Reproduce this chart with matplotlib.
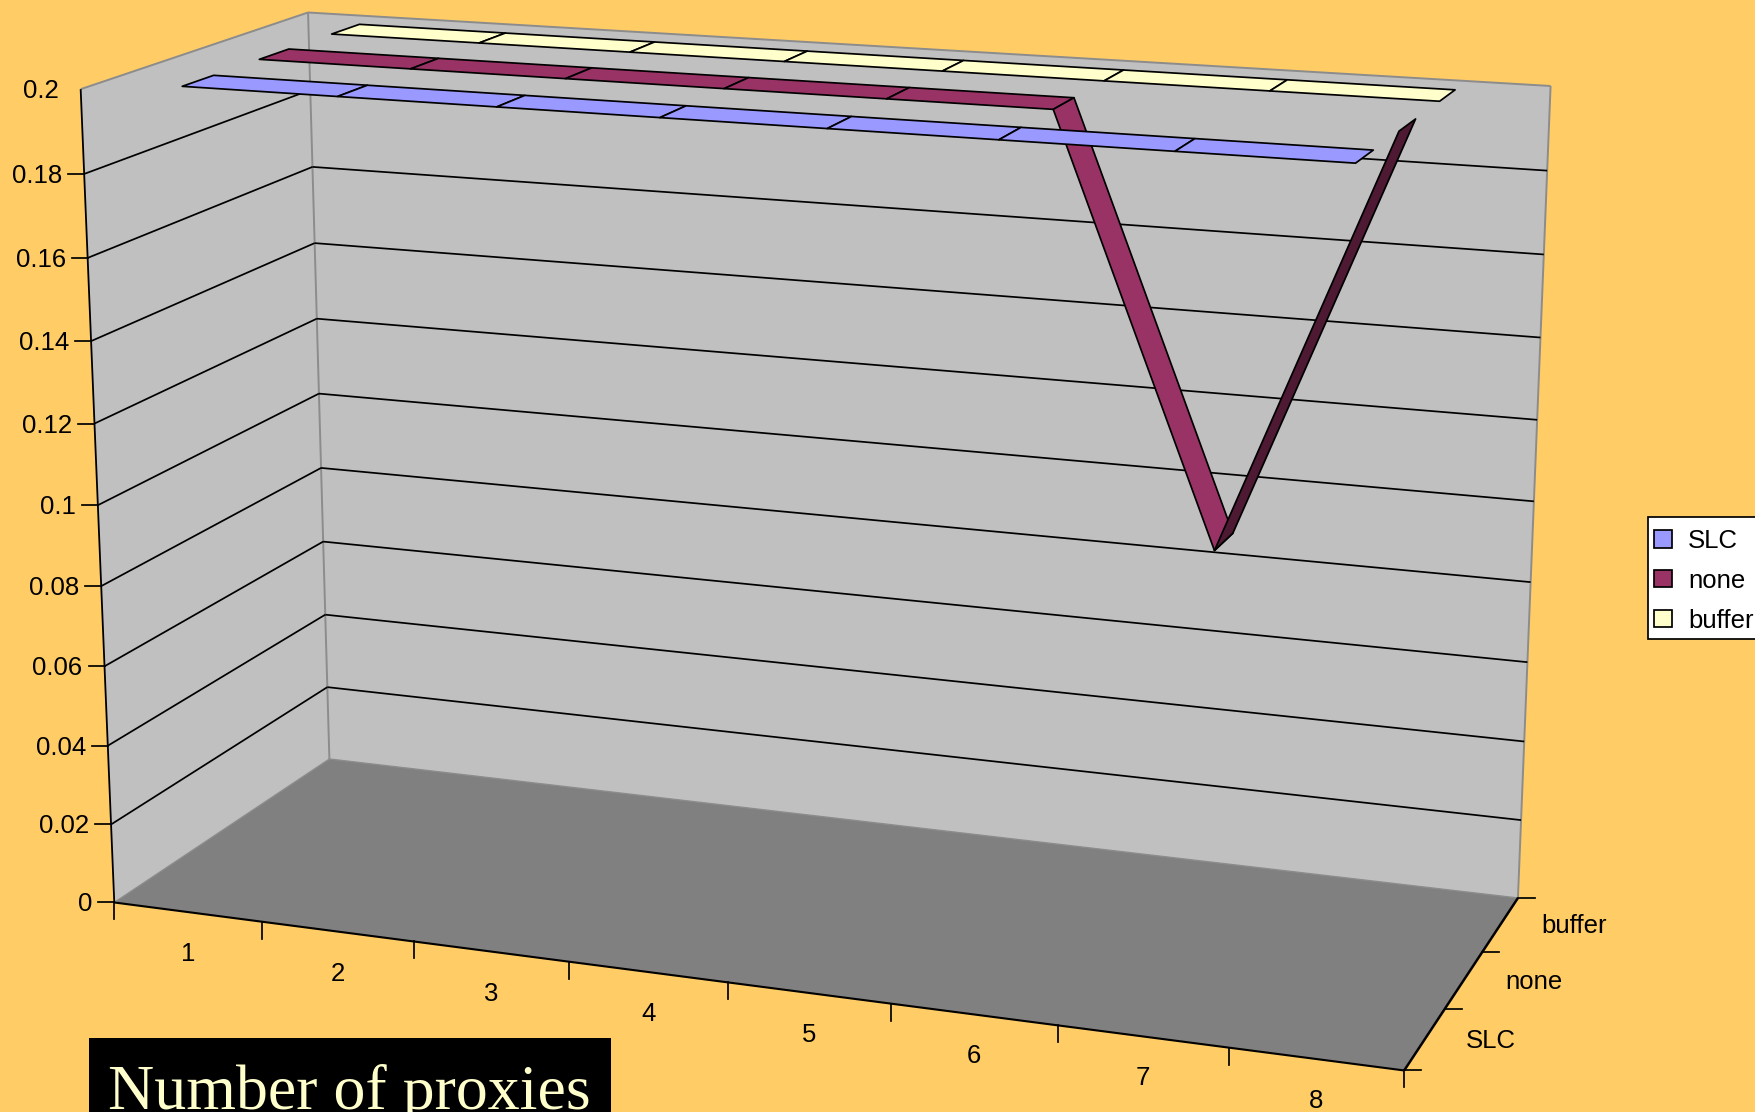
import matplotlib
matplotlib.use('Agg')
import matplotlib.pyplot as plt
from matplotlib.collections import PolyCollection
from matplotlib.patches import Patch, Rectangle
import numpy as np

plt.rcParams['font.family'] = ['Liberation Sans', 'DejaVu Sans']

# chart values
categories = ['1', '2', '3', '4', '5', '6', '7', '8']
series_names = ['SLC', 'none', 'buffer']
slc = [0.2, 0.2, 0.2, 0.2, 0.2, 0.2, 0.2, 0.2]
none = [0.2, 0.2, 0.2, 0.2, 0.2, 0.2, 0.1, 0.2]
buffer = [0.2, 0.2, 0.2, 0.2, 0.2, 0.2, 0.2, 0.2]
value_ticks = [0, 0.02, 0.04, 0.06, 0.08, 0.1, 0.12, 0.14, 0.16, 0.18, 0.2]
value_labels = ['0', '0.02', '0.04', '0.06', '0.08', '0.1', '0.12', '0.14', '0.16', '0.18', '0.2']

BG = '#FFCC66'
WALL = '#C0C0C0'
FLOOR = '#808080'
EDGE = '#8C8C8C'
COLORS = ['#9999FF', '#993366', '#FFFFCC']
DARK_NONE = '#4D1933'
YMAX = 0.2
NCAT = len(categories)
NSER = len(series_names)
RIBBON = 0.4  # ribbon depth, 150% gap
FONT = 18.5
LW = 1.25

# camera calibration: (category pos, depth, value) -> figure pixel
anchors = [
    (0, 0, 0, 114, 902), (0, 0, 0.2, 81, 90), (0, 3, 0, 329, 759), (0, 3, 0.2, 308, 12),
    (8, 3, 0.2, 1550, 86), (8, 3, 0, 1518, 897), (8, 0, 0, 1404, 1071),
    (1, 0, 0, 263, 922), (2, 0, 0, 414, 942), (3, 0, 0, 570, 961), (5, 0, 0, 891, 1004),
    (7, 0, 0, 1228, 1048), (8, 1, 0, 1445, 1009), (8, 2, 0, 1482, 952),
    (0, 0, 0.1, 97, 505), (0, 3, 0.1, 319, 397), (8, 3, 0.1, 1535, 500),
    (0, 3, 0.02, 327, 686), (0, 3, 0.16, 313, 166), (8, 3, 0.02, 1521, 821),
    (8, 3, 0.18, 1547, 171), (0, 0, 0.02, 111, 824), (0, 0, 0.18, 84, 173),
]


def fit_camera(points):
    rows = []
    for x, z, v, px, py in points:
        p = [x, z, v / YMAX, 1]
        rows.append(p + [0, 0, 0, 0] + [-px * c for c in p])
        rows.append([0, 0, 0, 0] + p + [-py * c for c in p])
    _, _, vt = np.linalg.svd(np.array(rows, dtype=float))
    return vt[-1].reshape(3, 4)


camera = fit_camera(anchors)


def project(x, z, v):
    u = camera @ np.array([x, z, v / YMAX, 1.0])
    return u[0] / u[2], u[1] / u[2]


fig = plt.figure(figsize=(17.56, 11.12), dpi=100, facecolor=BG)
ax = fig.add_axes([0, 0, 1, 1])
ax.set_xlim(0, 1756)
ax.set_ylim(1112, 0)
ax.axis('off')


def quad(corners, fc, ec='none', lw=0, z=1):
    ax.add_collection(PolyCollection([[project(*c) for c in corners]], facecolors=fc,
                                     edgecolors=ec, linewidths=lw, zorder=z))


def line(a, b, color='black', lw=LW, z=2):
    pa, pb = project(*a), project(*b)
    ax.plot([pa[0], pb[0]], [pa[1], pb[1]], color=color, lw=lw, zorder=z,
            solid_capstyle='butt')


# walls and floor
quad([(0, 0, 0), (0, 3, 0), (0, 3, YMAX), (0, 0, YMAX)], WALL)
quad([(0, 3, 0), (8, 3, 0), (8, 3, YMAX), (0, 3, YMAX)], WALL)
quad([(0, 0, 0), (8, 0, 0), (8, 3, 0), (0, 3, 0)], FLOOR)
line((0, 0, YMAX), (0, 3, YMAX), EDGE, 1.4)
line((0, 3, YMAX), (8, 3, YMAX), EDGE, 1.4)
line((8, 3, YMAX), (8, 3, 0), EDGE, 1.4)
line((0, 3, YMAX), (0, 3, 0), EDGE, 1.4)
line((0, 0, 0), (0, 3, 0), EDGE, 1.0)
line((0, 3, 0), (8, 3, 0), EDGE, 1.0)

# gridlines
for tick in value_ticks[1:-1]:
    line((0, 0, tick), (0, 3, tick))
    line((0, 3, tick), (8, 3, tick))

# axes edges
line((0, 0, 0), (0, 0, YMAX), lw=1.3, z=3)
line((0, 0, 0), (8, 0, 0), lw=1.5, z=3)
line((8, 0, 0), (8, 3, 0), lw=1.8, z=3)

# value axis ticks and labels
for tick, label in zip(value_ticks, value_labels):
    px, py = project(0, 0, tick)
    if tick < YMAX:
        ax.plot([px - 16, px], [py, py], color='black', lw=LW, zorder=3)
    ax.text(px - 22, py + 2, label, ha='right', va='center', fontsize=FONT, color='black')

# category ticks and labels
for i in range(NCAT + 1):
    px, py = project(i, 0, 0)
    ax.plot([px, px], [py, py + 17], color='black', lw=LW, zorder=3)
for i, label in enumerate(categories):
    px, py = project(i + 0.5, 0, 0)
    ax.text(px, py + 42, label, ha='center', va='center', fontsize=FONT, color='black')

# depth ticks and labels
for i in range(NSER + 1):
    px, py = project(NCAT, i, 0)
    ax.plot([px, px + 17], [py, py], color='black', lw=LW, zorder=3)
for i, label in enumerate(series_names):
    px, py = project(NCAT, i + 0.5, 0)
    ax.text(px + 41, py + 2, label, ha='left', va='center', fontsize=FONT, color='black')


def ribbon(values, depth, color, z):
    z0 = depth + 0.5 - RIBBON / 2
    z1 = depth + 0.5 + RIBBON / 2
    for i in range(len(values) - 1):
        x0, x1 = i + 0.5, i + 1.5
        v0, v1 = values[i], values[i + 1]
        # rising segments show their underside
        fc = DARK_NONE if v1 > v0 else color
        quad([(x0, z0, v0), (x1, z0, v1), (x1, z1, v1), (x0, z1, v0)], fc, 'black', LW, z + i * 0.01)


# drawn back to front
ribbon(buffer, 2, COLORS[2], 4)
ribbon(none, 1, COLORS[1], 5)
ribbon(slc, 0, COLORS[0], 6)

# legend box runs off the right edge, so the frame is its own patch
ax.add_patch(Rectangle((1648, 517), 130, 122, facecolor='white', edgecolor='black', lw=LW, zorder=7))
handles = [Patch(facecolor=c, edgecolor='black', linewidth=LW) for c in COLORS]
ax.legend(handles, series_names, loc='upper left', bbox_to_anchor=(1654, 529),
          bbox_transform=ax.transData, borderaxespad=0, fontsize=FONT, frameon=False,
          handlelength=0.72, handleheight=0.65, handletextpad=0.6, borderpad=0,
          labelspacing=0.62)
ax.get_legend().set_zorder(8)

# axis title caption, cut by the lower edge
ax.add_patch(Rectangle((89, 1038), 522, 80, facecolor='black', edgecolor='none', zorder=9))
ax.text(108, 1109, 'Number of proxies', family=['Liberation Serif', 'DejaVu Serif'], fontsize=46,
        color='#FFFFCC', ha='left', va='baseline', zorder=10)

fig.savefig('out.png', dpi=100, facecolor=BG)
